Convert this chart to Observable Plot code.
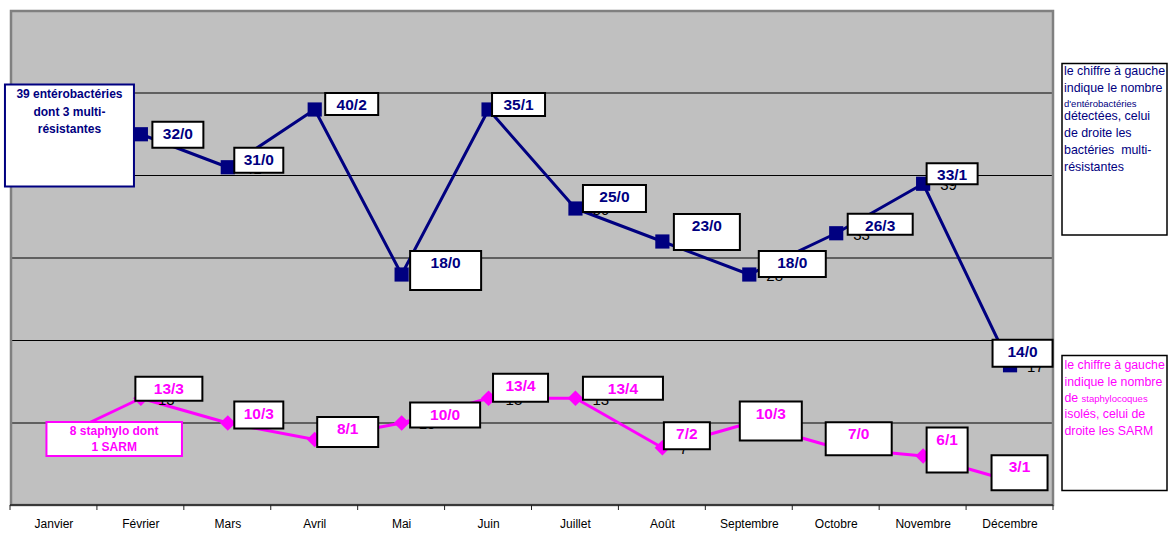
<!DOCTYPE html>
<html><head><meta charset="utf-8">
<script src="https://cdn.jsdelivr.net/npm/d3@7"></script>
<script src="https://cdn.jsdelivr.net/npm/@observablehq/plot@0.6"></script>
<style>
html,body{margin:0;padding:0;background:#fff;}
#chart{width:1173px;height:534px;}
</style></head><body><div id="chart"></div>
<script>
// ---- data ----
const months = ["Janvier","Février","Mars","Avril","Mai","Juin","Juillet","Août","Septembre","Octobre","Novembre","Décembre"];
const enteroPlotted = [42,45,41,48,28,48,36,32,28,33,39,17];
const enteroCount   = [39,32,31,40,18,35,25,23,18,26,33,14];
const enteroMulti   = [3,0,0,2,0,1,0,0,0,3,1,0];
const staphPlotted  = [8,13,10,8,10,13,13,7,10,7,6,3];
const staphCount    = [8,13,10,8,10,13,13,7,10,7,6,3];
const staphSARM     = [1,3,3,1,0,4,4,2,3,0,1,1];
const gridTicks = [10,20,30,40,50];
const enteroJanText = ["39 entérobactéries","dont 3 multi-","résistantes"];
const staphJanText = ["8 staphylo dont","1 SARM"];
const enteroNote = ["le chiffre à gauche","indique le nombre","d'entérobactéries","détectées, celui","de droite les","bactéries  multi-","résistantes"];
const staphNote = ["le chiffre à gauche","indique le nombre","de|staphylocoques","isolés, celui de","droite les SARM"];

// ---- layout (label box offsets from each point, px: left, right, top, bottom) ----
const enteroBoxLayout = [[-48.5,80.5,-74,28],[12,63,-12,14],[7,56,-19,6],[11,64,-16,6],[9,80,-23,16],[4,57,-16,7],[8,71,-23,4],[12,78,-27,9],[10,77,-23,3],[12,77,-19,2],[4,55,-20,1],[-17,43,-25,2]];
const staphBoxLayout = [[-7,128.5,-17,17],[-5,62,-21,3],[7,56,-21,6],[3,64,-22,8],[9,79,-20,5],[5,60,-24,4],[8,88,-21,2],[2,48,-25,2],[-9,53,-21,18],[-10,56,-25,8],[4,45,-28,17],[-18,38,-25,10]];

const NAVY = "#000080", PINK = "#FF00FF";
const FONT = "'Liberation Sans', Arial, sans-serif";

const enteroData = months.map((m,i)=>({month:m, value:enteroPlotted[i]}));
const staphData = months.map((m,i)=>({month:m, value:staphPlotted[i]}));

function labelBoxes(values, counts, seconds, layout, color, janLines, lineStart, lineStep) {
  return (index, scales) => {
    const g = d3.create("svg:g").attr("font-family", FONT);
    const bw = typeof scales.x.bandwidth === "function" ? scales.x.bandwidth() : 0;
    months.forEach((m, i) => {
      const cx = scales.x(m) + bw / 2, cy = scales.y(values[i]);
      const [a, b, c, d] = layout[i];
      const big = i === 0;
      g.append("rect").attr("x", cx + a).attr("y", cy + c).attr("width", b - a).attr("height", d - c)
        .attr("fill", "white").attr("stroke", big ? color : "black").attr("stroke-width", 2);
      if (big) {
        janLines.forEach((t, k) => g.append("text")
          .attr("x", cx + (a + b) / 2).attr("y", cy + c + lineStart + k * lineStep)
          .attr("text-anchor", "middle").attr("fill", color).attr("font-weight", "bold")
          .attr("font-size", 12).text(t));
      } else {
        g.append("text").attr("x", cx + (a + b) / 2).attr("y", cy + c + 17)
          .attr("text-anchor", "middle").attr("fill", color).attr("font-weight", "bold")
          .attr("font-size", 15.5).text(`${counts[i]}/${seconds[i]}`);
      }
    });
    return g.node();
  };
}

function axisLine(index, scales) {
  const g = d3.create("svg:g");
  const bw = scales.x.bandwidth();
  const y0 = scales.y(0);
  const xs = months.map(m => scales.x(m)).concat([scales.x(months[months.length-1]) + bw]);
  g.append("line").attr("x1", xs[0]).attr("x2", xs[xs.length-1]).attr("y1", y0).attr("y2", y0)
    .attr("stroke", "#222").attr("stroke-width", 1.5);
  xs.forEach(x => g.append("line").attr("x1", x).attr("x2", x).attr("y1", y0).attr("y2", y0 + 5)
    .attr("stroke", "#222").attr("stroke-width", 1));
  return g.node();
}

function notes() {
  const g = d3.create("svg:g").attr("font-family", FONT).attr("text-anchor", "start").style("white-space", "pre");
  g.append("rect").attr("x", 1062).attr("y", 63.5).attr("width", 105).attr("height", 171.5)
    .attr("fill", "white").attr("stroke", "black").attr("stroke-width", 1.5);
  const eb = [75, 91.5, 106.5, 120, 136.5, 153.5, 171];
  enteroNote.forEach((t, k) => g.append("text").attr("x", 1064).attr("y", eb[k]).attr("text-anchor", "start")
    .attr("fill", NAVY).attr("font-size", k === 2 ? 9.5 : 12.4).text(t));
  g.append("rect").attr("x", 1062).attr("y", 355.5).attr("width", 105).attr("height", 135)
    .attr("fill", "white").attr("stroke", "black").attr("stroke-width", 1.5);
  const sb = [369, 385.5, 401.5, 418, 435];
  staphNote.forEach((t, k) => {
    const txt = g.append("text").attr("x", 1064.5).attr("y", sb[k]).attr("text-anchor", "start").attr("fill", PINK).attr("font-size", 12.3);
    if (t.includes("|")) {
      const [p1, p2] = t.split("|");
      txt.append("tspan").text(p1 + " ");
      txt.append("tspan").attr("font-size", 9.5).text(p2);
    } else txt.text(t);
  });
  return g.node();
}

const chart = Plot.plot({
  width: 1173, height: 534,
  marginLeft: 10, marginRight: 120, marginTop: 10, marginBottom: 29,
  style: {fontFamily: FONT, fontSize: "12px", background: "white", color: "black"},
  x: {type: "band", domain: months, padding: 0, round: false, tickSize: 0, tickPadding: 14, label: null},
  y: {domain: [0, 60], axis: null},
  marks: [
    Plot.frame({fill: "#c0c0c0", stroke: "none"}),
    Plot.ruleY(gridTicks, {stroke: "black", strokeWidth: 1}),
    Plot.line(enteroData, {x: "month", y: "value", stroke: NAVY, strokeWidth: 3}),
    Plot.line(staphData, {x: "month", y: "value", stroke: PINK, strokeWidth: 3}),
    Plot.dot(enteroData, {x: "month", y: "value", symbol: "square", r: 8, fill: NAVY, stroke: "none"}),
    Plot.dot(staphData, {x: "month", y: "value", symbol: "diamond2", r: 7, fill: PINK, stroke: "none"}),
    Plot.text(enteroData.slice(1), {x: "month", y: "value", text: "value", dx: 17, dy: 1.5, textAnchor: "start", fontSize: 15, fill: "black"}),
    Plot.text(staphData.slice(1), {x: "month", y: "value", text: "value", dx: 17, dy: 1.5, textAnchor: "start", fontSize: 15, fill: "black"}),
    Plot.frame({stroke: "#808080", strokeWidth: 2.5, inset: 0.5}),
    axisLine,
    labelBoxes(enteroPlotted, enteroCount, enteroMulti, enteroBoxLayout, NAVY, enteroJanText, 13.5, 17.5),
    labelBoxes(staphPlotted, staphCount, staphSARM, staphBoxLayout, PINK, staphJanText, 12.5, 16.5),
    notes
  ]
});
document.getElementById("chart").append(chart);
</script>
</body></html>
